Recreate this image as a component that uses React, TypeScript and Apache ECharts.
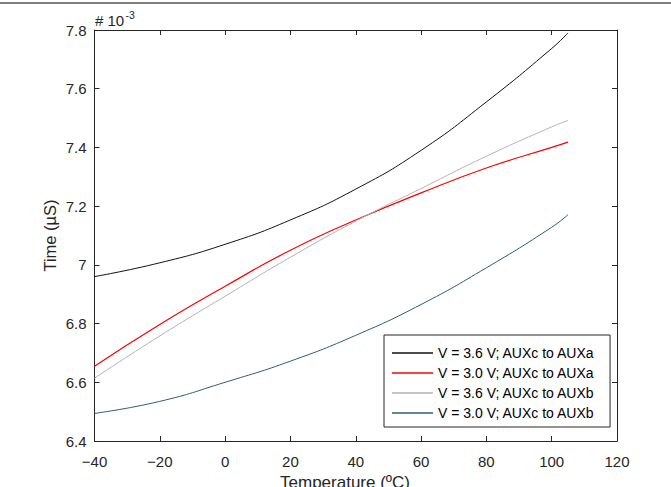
import React, { useEffect, useRef } from "react";
import * as echarts from "echarts";

const temps = [-40, -20, 0, 20, 40, 60, 80, 100, 105];
const black36a = [6.96, 7.007, 7.07, 7.153, 7.258, 7.39, 7.555, 7.737, 7.79];
const red30a = [6.655, 6.797, 6.927, 7.05, 7.153, 7.245, 7.33, 7.4, 7.418];
const gray36b = [6.614, 6.758, 6.893, 7.026, 7.149, 7.26, 7.37, 7.47, 7.492];
const blue30b = [6.494, 6.535, 6.6, 6.672, 6.76, 6.865, 6.99, 7.128, 7.171];

const seriesNames = [
  "V = 3.6 V; AUXc to AUXa",
  "V = 3.0 V; AUXc to AUXa",
  "V = 3.6 V; AUXc to AUXb",
  "V = 3.0 V; AUXc to AUXb",
];
const seriesValues = [black36a, red30a, gray36b, blue30b];
const seriesColors = ["#111111", "#ff0000", "#b3b3b3", "#2f5b78"];
const seriesWidths = [1, 1.2, 1, 1];

const xMin = -40, xMax = 120, xStep = 20;
const yMin = 6.4, yMax = 7.8, yStep = 0.2;
const xTitle = "Temperature (ºC)";
const yTitle = "Time (µS)";
const expBase = "# 10";
const expPow = "-3";

const FONT = "'Liberation Sans', Arial, sans-serif";
const AX = "#262626";

export default function App() {
  const ref = useRef<HTMLDivElement>(null);
  useEffect(() => {
    if (!ref.current) return;
    const chart = echarts.init(ref.current, null, { renderer: "svg" });
    const grid = { left: 94.5, top: 30, right: 54, bottom: 46 };
    const axisLine = { show: true, onZero: false, lineStyle: { color: AX, width: 1 } };
    const tick = { show: true, inside: true, length: 5, lineStyle: { color: AX, width: 1 } };
    const xFmt = (v: number) => (v < 0 ? "\u2212" + Math.abs(v) : String(v));
    const yFmt = (v: number) => String(parseFloat(v.toFixed(1)));
    chart.setOption({
      animation: false,
      backgroundColor: "#ffffff",
      grid,
      xAxis: [
        {
          type: "value", position: "bottom", min: xMin, max: xMax, interval: xStep,
          axisLine, axisTick: tick, splitLine: { show: false },
          axisLabel: { formatter: xFmt, fontSize: 15, color: AX, fontFamily: FONT, margin: 13 },
        },
        {
          type: "value", position: "top", min: xMin, max: xMax, interval: xStep,
          axisLine, axisTick: tick, splitLine: { show: false }, axisLabel: { show: false },
        },
      ],
      yAxis: [
        {
          type: "value", position: "left", min: yMin, max: yMax, interval: yStep,
          axisLine, axisTick: tick, splitLine: { show: false },
          axisLabel: { formatter: yFmt, fontSize: 15, color: AX, fontFamily: FONT, margin: 8 },
        },
        {
          type: "value", position: "right", min: yMin, max: yMax, interval: yStep,
          axisLine, axisTick: tick, splitLine: { show: false }, axisLabel: { show: false },
        },
      ],
      legend: {
        orient: "vertical",
        left: 384,
        top: 335,
        padding: [10, 15, 6, 8],
        itemGap: 4,
        itemWidth: 41,
        itemHeight: 1.3,
        icon: "rect",
        backgroundColor: "#ffffff",
        borderColor: AX,
        borderWidth: 1,
        borderRadius: 0,
        textStyle: { fontSize: 14, fontFamily: FONT, color: "#000", lineHeight: 16 },
        data: seriesNames,
      },
      series: seriesNames.map((name, i) => ({
        name,
        type: "line",
        xAxisIndex: 0,
        yAxisIndex: 0,
        data: temps.map((t, j) => [t, seriesValues[i][j]]),
        smooth: 0.5,
        showSymbol: false,
        symbol: "none",
        lineStyle: { color: seriesColors[i], width: seriesWidths[i] },
        itemStyle: { color: seriesColors[i] },
        z: 2 + i,
      })),
      graphic: [
        {
          type: "line",
          shape: { x1: 0, y1: 3, x2: 671, y2: 3 },
          style: { stroke: "#000", lineWidth: 1 },
        },
        {
          type: "text",
          x: 95,
          y: 20.8,
          style: { text: expBase, font: `15px ${FONT}`, fill: AX, textAlign: "left", textVerticalAlign: "middle" },
        },
        {
          type: "text",
          x: 125.5,
          y: 15.3,
          style: { text: expPow, font: `10.5px ${FONT}`, fill: AX, textAlign: "left", textVerticalAlign: "middle" },
        },
        {
          type: "text",
          x: 345,
          y: 482.5,
          style: { text: xTitle, font: `17px ${FONT}`, fill: AX, textAlign: "center", textVerticalAlign: "middle" },
        },
        {
          type: "text",
          x: 50,
          y: 235.5,
          rotation: Math.PI / 2,
          style: { text: yTitle, font: `16.5px ${FONT}`, fill: AX, textAlign: "center", textVerticalAlign: "middle" },
        },
      ],
    });
    return () => chart.dispose();
  }, []);
  return (
    <div
      ref={ref}
      style={{ position: "absolute", left: 0, top: 0, width: 671, height: 487, background: "#fff" }}
    />
  );
}
